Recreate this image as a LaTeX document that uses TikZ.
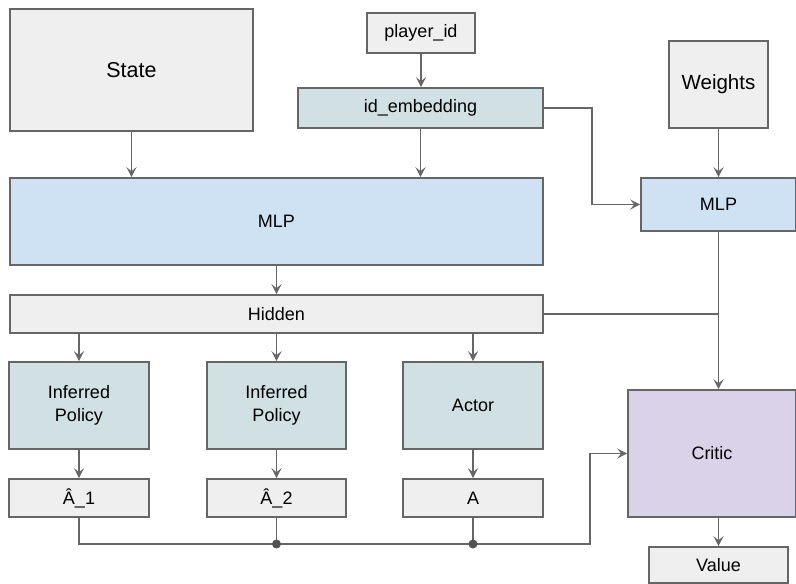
\documentclass[tikz,border=0pt]{standalone}
\usepackage{fontspec}
\setmainfont{Liberation Sans}
\usetikzlibrary{arrows.meta}
\definecolor{boxline}{HTML}{666666}
\definecolor{lnk}{HTML}{666666}
\definecolor{gfill}{HTML}{EFEFEF}
\definecolor{bfill}{HTML}{CFE2F3}
\definecolor{tfill}{HTML}{D0E0E3}
\definecolor{pfill}{HTML}{D9D2E9}
\tikzset{
  box/.style={draw=boxline, line width=1.6pt, inner sep=0pt, align=center,
    font=\fontsize{18}{23}\selectfont},
  gbox/.style={box, fill=gfill},
  bbox/.style={box, fill=bfill},
  tbox/.style={box, fill=tfill},
  pbox/.style={box, fill=pfill},
  conn/.style={draw=lnk, line width=1.7pt},
  arr/.style={conn, -{Stealth[length=10pt,width=10pt,inset=4pt]}},
  dotj/.style={circle, fill=lnk!80!black, inner sep=0pt, minimum size=9pt}
}
\begin{document}
\begin{tikzpicture}[x=1pt,y=-1pt]
\useasboundingbox (0,0) rectangle (796,584);
\node[gbox, minimum width=243, minimum height=122, font=\fontsize{21.5}{26}\selectfont] (state) at (131.5,70) {State};
\node[gbox, minimum width=108, minimum height=40] (pid) at (421,33) {player\_id};
\node[tbox, minimum width=245, minimum height=40] (emb) at (420.5,108) {id\_embedding};
\node[gbox, minimum width=99, minimum height=87, font=\fontsize{20.5}{25}\selectfont] (weights) at (718.5,84.5) {Weights};
\node[bbox, minimum width=533, minimum height=87] (mlp) at (276.5,221.5) {MLP};
\node[bbox, minimum width=155, minimum height=53] (mlp2) at (718.5,204.5) {MLP};
\node[gbox, minimum width=533, minimum height=38] (hidden) at (276.5,314) {Hidden};
\node[tbox, minimum width=140, minimum height=87] (ip1) at (79,405.5) {Inferred\\Policy};
\node[tbox, minimum width=139, minimum height=87] (ip2) at (276.5,405.5) {Inferred\\Policy};
\node[tbox, minimum width=140, minimum height=87] (actor) at (473,405.5) {Actor};
\node[gbox, minimum width=140, minimum height=38] (a1) at (79,498) {Â\_1};
\node[gbox, minimum width=139, minimum height=38] (a2) at (276.5,498) {Â\_2};
\node[gbox, minimum width=140, minimum height=38] (aa) at (473,498) {A};
\node[pbox, minimum width=168, minimum height=127] (critic) at (712,453.5) {Critic};
\node[gbox, minimum width=139, minimum height=36] (value) at (718.5,565) {Value};
\coordinate (bus) at (590,544);
\coordinate (turn) at (592,0);
% connectors
\draw[arr] (state.south) -- (state.south |- mlp.north);
\draw[arr] (pid.south) -- (pid.south |- emb.north);
\draw[arr] (emb.south) -- (emb.south |- mlp.north);
\draw[arr] (emb.east) -- (turn |- emb.east) |- (mlp2.west);
\draw[arr] (weights.south) -- (mlp2.north);
\draw[arr] (mlp.south) -- (mlp.south |- hidden.north);
\draw[conn] (hidden.east) -- (mlp2.south |- hidden.east);
\draw[arr] (mlp2.south) -- (mlp2.south |- critic.north);
\draw[arr] (ip1.north |- hidden.south) -- (ip1.north);
\draw[arr] (ip2.north |- hidden.south) -- (ip2.north);
\draw[arr] (actor.north |- hidden.south) -- (actor.north);
\draw[arr] (ip1.south) -- (a1.north);
\draw[arr] (ip2.south) -- (a2.north);
\draw[arr] (actor.south) -- (aa.north);
\draw[arr] (a1.south) -- (a1.south |- bus) -- (bus) |- (critic.west);
\draw[conn] (a2.south) -- (a2.south |- bus) node[dotj] (d1) {};
\draw[conn] (aa.south) -- (aa.south |- bus) node[dotj] (d2) {};
\draw[arr] (value.north |- critic.south) -- (value.north);
\end{tikzpicture}
\end{document}
